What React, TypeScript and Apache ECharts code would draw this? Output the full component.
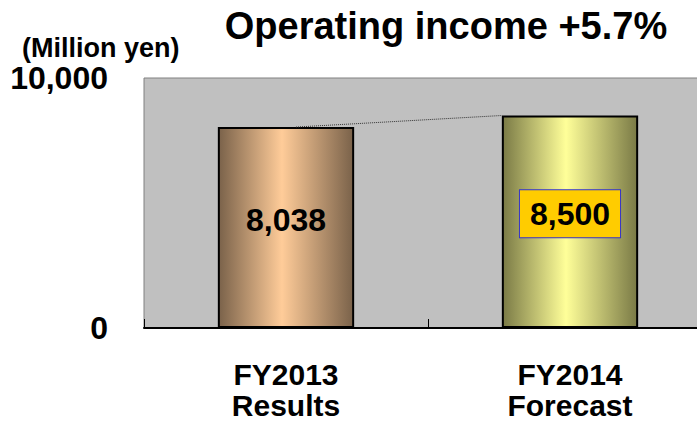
import React, { useEffect, useRef } from "react";
import * as echarts from "echarts";

const categories = ["FY2013\nResults", "FY2014\nForecast"];
const values = [8038, 8500];
const yTicks = [0, 10000];
const titleText = "Operating income +5.7%";
const unitText = "(Million yen)";

const FONT = "'Liberation Sans', Arial, sans-serif";

export default function App() {
  const ref = useRef<HTMLDivElement>(null);
  useEffect(() => {
    if (!ref.current) return;
    const chart = echarts.init(ref.current, null, { renderer: "svg" });
    const grad = (edge: string, mid: string) =>
      new echarts.graphic.LinearGradient(0, 0, 1, 0, [
        { offset: 0, color: edge },
        { offset: 0.47, color: mid },
        { offset: 1, color: edge },
      ]);
    const barColors = [grad("#7a624a", "#ffcc99"), grad("#7a7a46", "#ffff99")];
    const labelBase = {
      show: true,
      position: "inside",
      offset: [0, -8],
      fontFamily: FONT,
      fontWeight: "bold",
      fontSize: 32,
      color: "#000",
      formatter: (p: any) => Number(p.value).toLocaleString("en-US"),
    };
    chart.setOption({
      animation: false,
      textStyle: { fontFamily: FONT },
      graphic: [
        {
          type: "text",
          x: 446,
          y: 26,
          style: {
            text: titleText,
            font: `bold 38px ${FONT}`,
            fill: "#000",
            align: "center",
            verticalAlign: "middle",
          },
        },
        {
          type: "text",
          x: 22,
          y: 48,
          style: {
            text: unitText,
            font: `bold 27px ${FONT}`,
            fill: "#000",
            align: "left",
            verticalAlign: "middle",
          },
        },
      ],
      grid: {
        left: 144,
        top: 78,
        width: 568,
        bottom: 97,
        outerBoundsMode: "none",
        containLabel: false,
        show: true,
        backgroundColor: "#c0c0c0",
        borderColor: "#808080",
        borderWidth: 1,
      },
      xAxis: {
        type: "category",
        data: categories,
        axisLine: { show: true, lineStyle: { color: "#000", width: 2 } },
        axisTick: { show: true, inside: true, length: 9, lineStyle: { color: "#000" } },
        axisLabel: {
          margin: 31,
          fontFamily: FONT,
          fontWeight: "bold",
          fontSize: 30,
          lineHeight: 31,
          color: "#000",
        },
        splitLine: { show: false },
      },
      yAxis: {
        type: "value",
        min: yTicks[0],
        max: yTicks[1],
        interval: yTicks[1] - yTicks[0],
        axisLine: { show: false },
        axisTick: { show: false },
        splitLine: { show: false },
        axisLabel: {
          margin: 36,
          fontFamily: FONT,
          fontWeight: "bold",
          fontSize: 32,
          color: "#000",
          formatter: (v: number) => v.toLocaleString("en-US"),
        },
      },
      series: [
        {
          type: "bar",
          barWidth: "48%",
          data: values.map((v, i) => ({
            value: v,
            itemStyle: { color: barColors[i], borderColor: "#000", borderWidth: 2 },
            label:
              i === 1
                ? {
                    ...labelBase,
                    backgroundColor: "#ffcc00",
                    borderColor: "#3333cc",
                    borderWidth: 1,
                    padding: [8, 10, 8, 10],
                    lineHeight: 31,
                  }
                : labelBase,
          })),
          label: labelBase,
          z: 2,
        },
        {
          type: "custom",
          z: 3,
          data: [[0, values[0], 1, values[1]]],
          encode: { x: 0, y: 1 },
          renderItem: (params: any, api: any) => {
            const p1 = api.coord([api.value(0), api.value(1)]);
            const p2 = api.coord([api.value(2), api.value(3)]);
            const w = api.size([1, 0])[0] * 0.48;
            return {
              type: "line",
              shape: { x1: p1[0] + 10, y1: p1[1], x2: p2[0] - w / 2, y2: p2[1] },
              style: { stroke: "#333", lineWidth: 1, lineDash: [1, 1] },
            };
          },
        },
      ],
    });
    return () => chart.dispose();
  }, []);
  return (
    <div
      ref={ref}
      style={{ position: "fixed", left: 0, top: 0, width: 697, height: 425, background: "#fff" }}
    />
  );
}
